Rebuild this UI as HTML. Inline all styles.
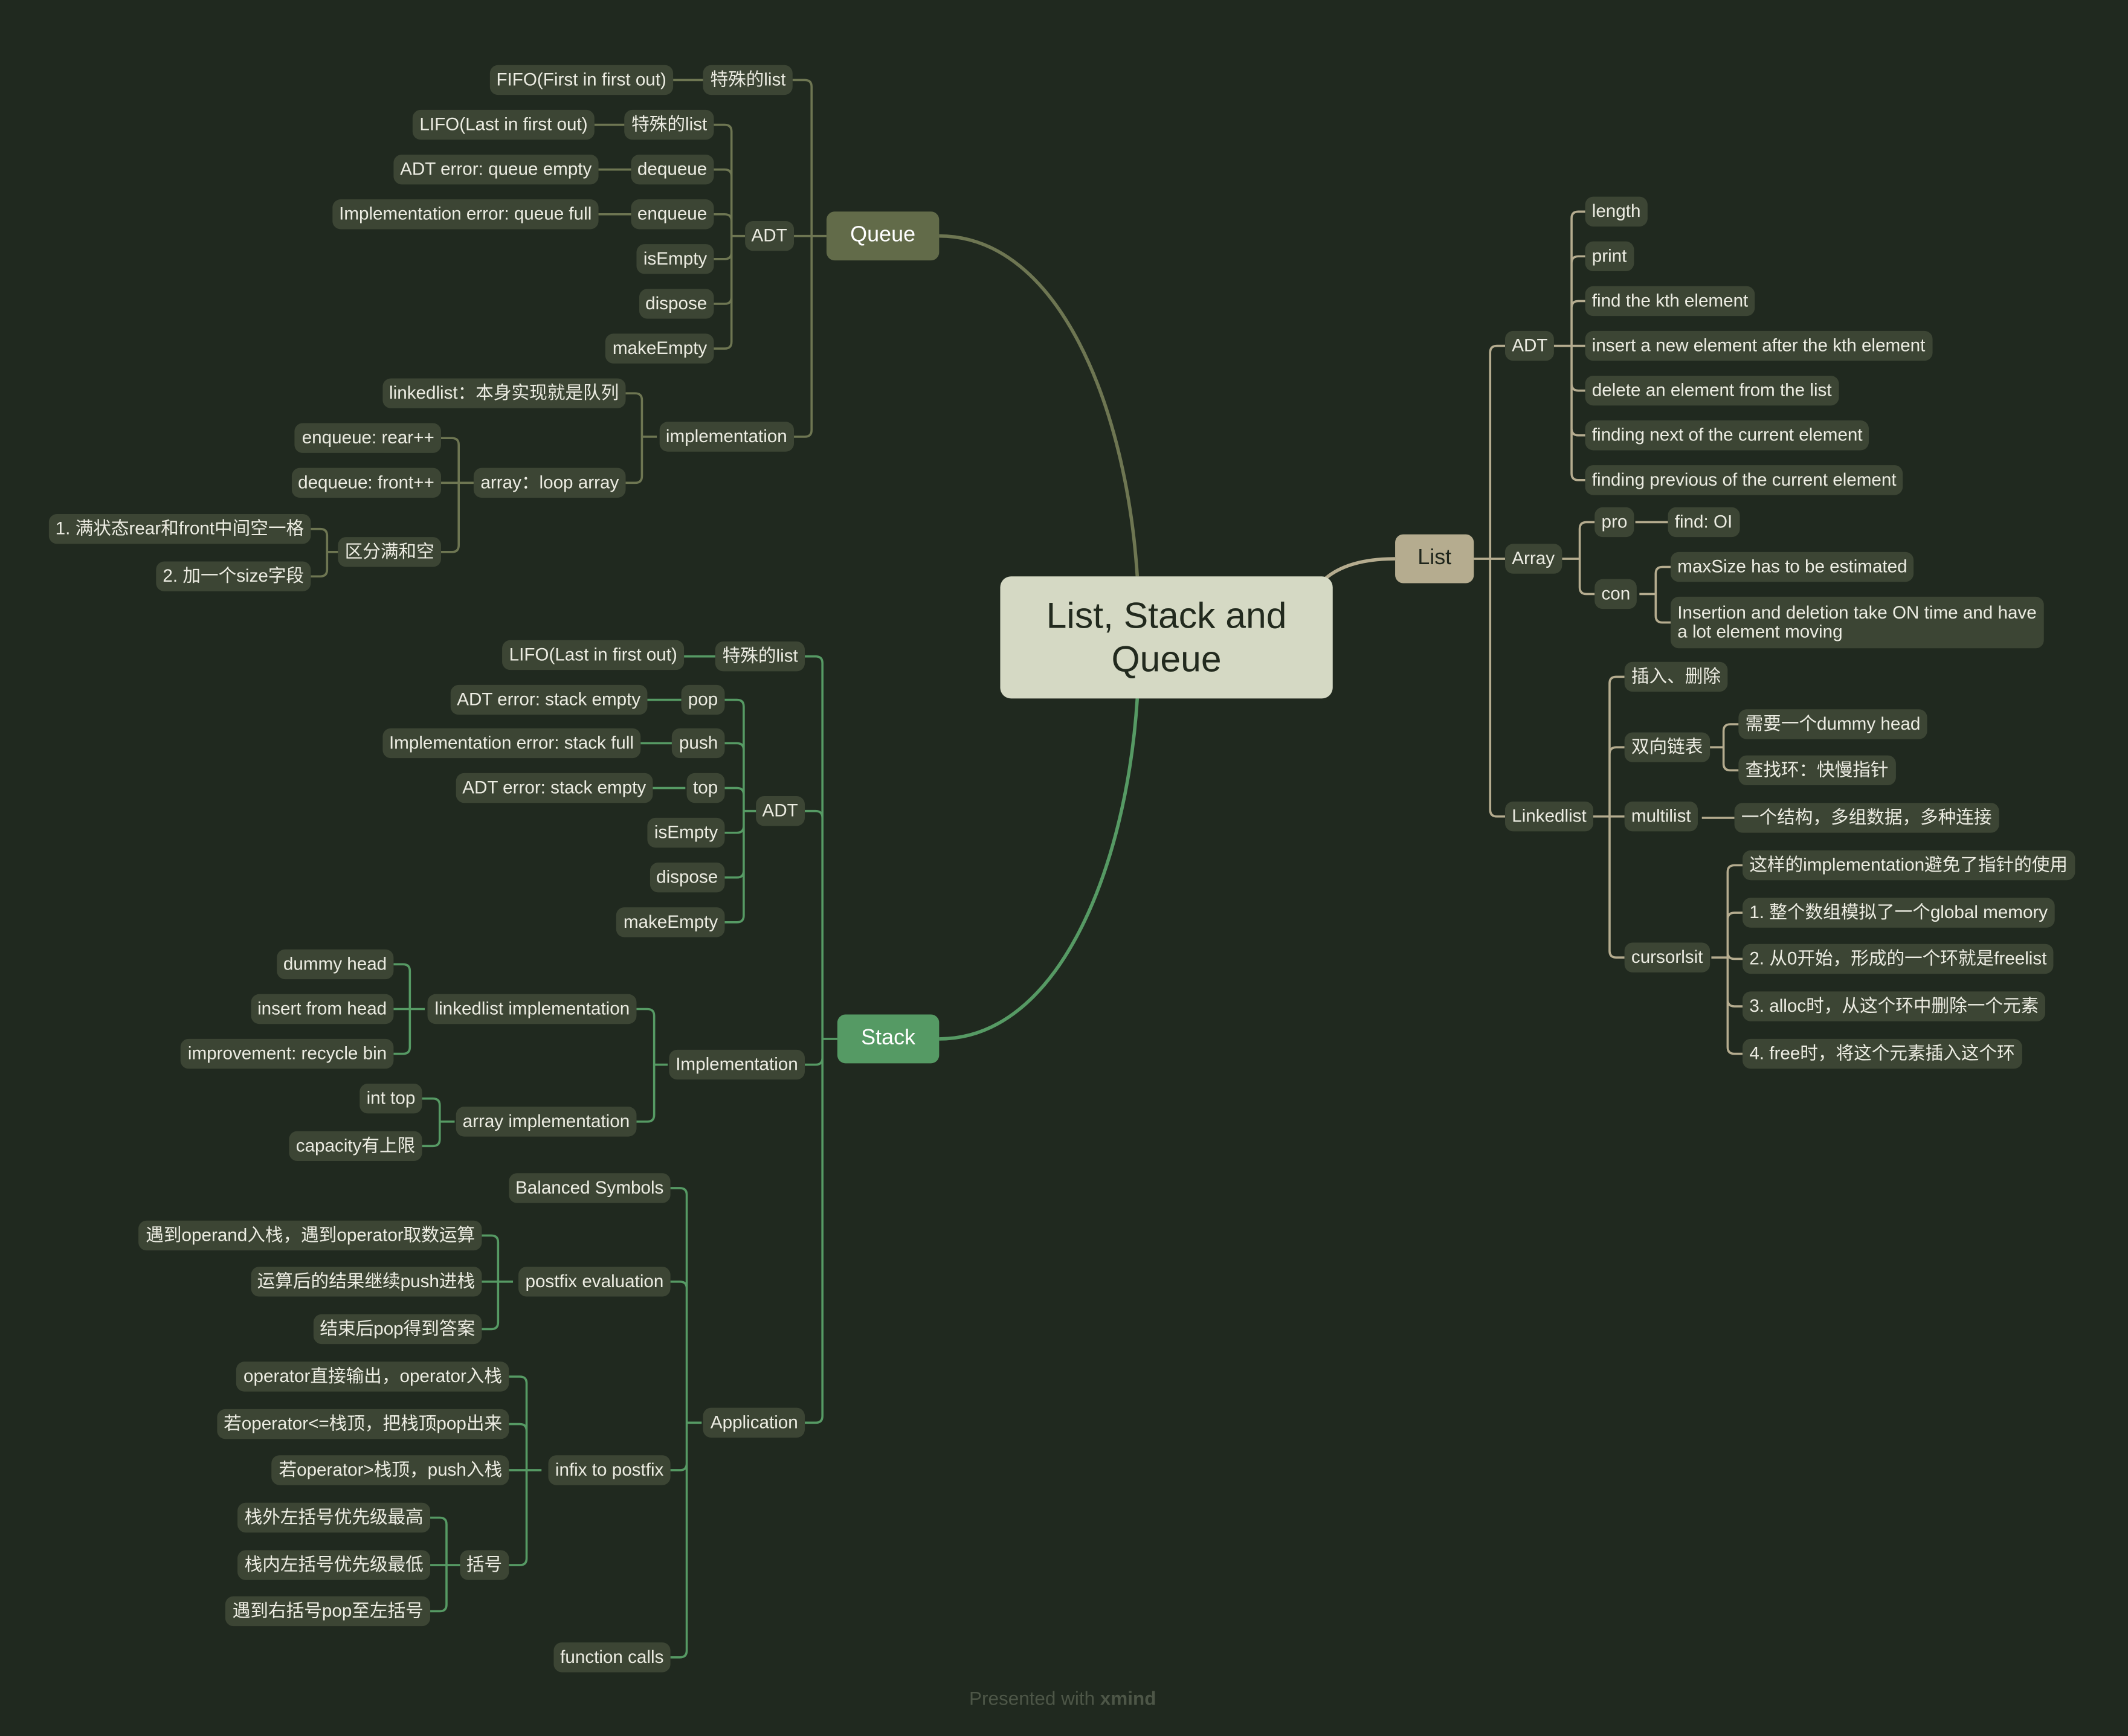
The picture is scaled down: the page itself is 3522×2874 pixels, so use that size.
<!DOCTYPE html>
<html><head><meta charset="utf-8">
<style>
html,body{margin:0;padding:0;background:#20291f;width:3522px;height:2874px;overflow:hidden}
#s{position:absolute;left:0;top:0;width:1568px;height:1280px;transform:scale(2.24617,2.24531);transform-origin:0 0;font-family:"Liberation Sans","Noto Sans CJK SC",sans-serif}
svg{position:absolute;left:0;top:0}
.n{position:absolute;height:22px;line-height:22px;padding:0 5px;border-radius:6px;background:#3c4534;color:#ecece2;font-size:13.2px;white-space:nowrap;transform:translateY(-50%)}
</style></head><body><div id="s">
<svg width="1568" height="1280" viewBox="0 0 1568 1280" fill="none" stroke-width="1.6">
<g stroke="#6e7652">
<path d="M692 174 C780 174 830 300 838 425" stroke-width="2.5"/>
<path d="M609 174 H598 M598 174 V64 Q598 59 593 59 H584 M598 174 H585 M598 174 V317 Q598 322 593 322 H585 M521 59 H496
M549 174 H539 M539 174 V97 Q539 92 534 92 H526 M539 174 V130 Q539 125 534 125 H526 M539 174 V163 Q539 158 534 158 H526 M539 174 V186 Q539 191 534 191 H526 M539 174 V219 Q539 224 534 224 H526 M539 174 V252 Q539 257 534 257 H526
M462 92 H438 M466 125 H441 M466 158 H441
M484 322 H473 M473 322 V295 Q473 290 468 290 H461 M473 322 V351 Q473 356 468 356 H461
M349 356 H338 M338 356 V328 Q338 323 333 323 H325 M338 356 H325 M338 356 V402 Q338 407 333 407 H325
M253 407 H241 M241 407 V395 Q241 390 236 390 H229 M241 407 V420 Q241 425 236 425 H229"/>
</g>
<g stroke="#569a64">
<path d="M692 766 C780 766 830 640 838 515" stroke-width="2.5"/>
<path d="M617 766 H606 M606 766 V489 Q606 484 601 484 H593 M606 766 V603 Q606 598 601 598 H593 M606 766 V780 Q606 785 601 785 H593 M606 766 V1044 Q606 1049 601 1049 H593
M530 484 H504
M559 598 H548 M548 598 V521 Q548 516 543 516 H534 M548 598 V553 Q548 548 543 548 H534 M548 598 V586 Q548 581 543 581 H534 M548 598 V609 Q548 614 543 614 H534 M548 598 V642 Q548 647 543 647 H534 M548 598 V675 Q548 680 543 680 H534
M502 516 H477 M497 548 H472 M505 581 H481
M492 785 H482 M482 785 V749 Q482 744 477 744 H469 M482 785 V822 Q482 827 477 827 H469
M313 744 H302 M302 744 V716 Q302 711 297 711 H290 M302 744 H290 M302 744 V772 Q302 777 297 777 H290
M335 827 H324 M324 827 V815 Q324 810 319 810 H311 M324 827 V840 Q324 845 319 845 H311
M517 1049 H506 M506 1049 V881 Q506 876 501 876 H494 M506 1049 V950 Q506 945 501 945 H494 M506 1049 V1079 Q506 1084 501 1084 H494 M506 1049 V1217 Q506 1222 501 1222 H494
M378 945 H367 M367 945 V916 Q367 911 362 911 H355 M367 945 H355 M367 945 V975 Q367 980 362 980 H355
M399 1084 H388 M388 1084 V1020 Q388 1015 383 1015 H375 M388 1084 V1055 Q388 1050 383 1050 H375 M388 1084 H375 M388 1084 V1149 Q388 1154 383 1154 H375
M340 1154 H329 M329 1154 V1124 Q329 1119 324 1119 H317 M329 1154 H317 M329 1154 V1183 Q329 1188 324 1188 H317"/>
</g>
<g stroke="#b5ac8f">
<path d="M975 428 Q992 412 1028 412" stroke-width="2.5"/>
<path d="M1086 412 H1098 M1098 412 V260 Q1098 255 1103 255 H1109 M1098 412 H1109 M1098 412 V597 Q1098 602 1103 602 H1109
M1145 255 H1158 M1158 255 V161 Q1158 156 1163 156 H1168 M1158 255 V194 Q1158 189 1163 189 H1168 M1158 255 V227 Q1158 222 1163 222 H1168 M1158 255 H1168 M1158 255 V283 Q1158 288 1163 288 H1168 M1158 255 V316 Q1158 321 1163 321 H1168 M1158 255 V349 Q1158 354 1163 354 H1168
M1151 412 H1164 M1164 412 V390 Q1164 385 1169 385 H1175 M1164 412 V433 Q1164 438 1169 438 H1175
M1205 385 H1229
M1208 438 H1220 M1220 438 V423 Q1220 418 1225 418 H1231 M1220 438 V454 Q1220 459 1225 459 H1231
M1174 602 H1186 M1186 602 V504 Q1186 499 1191 499 H1197 M1186 602 V556 Q1186 551 1191 551 H1197 M1186 602 H1197 M1186 602 V701 Q1186 706 1191 706 H1197
M1258 551 H1270 M1270 551 V539 Q1270 534 1275 534 H1281 M1270 551 V563 Q1270 568 1275 568 H1281
M1254 603 H1278
M1261 706 H1273 M1273 706 V643 Q1273 638 1278 638 H1284 M1273 706 V678 Q1273 673 1278 673 H1284 M1273 706 V702 Q1273 707 1278 707 H1284 M1273 706 V737 Q1273 742 1278 742 H1284 M1273 706 V772 Q1273 777 1278 777 H1284"/>
</g>
</svg>

<div style="position:absolute;left:737px;top:425px;width:245px;height:90px;background:#d5d9c4;border-radius:8px;color:#222a1e;font-size:27px;line-height:32px;text-align:center;display:flex;align-items:center;justify-content:center">List, Stack and<br>Queue</div>
<div style="position:absolute;left:609px;top:156px;width:83px;height:36px;background:#626b49;border-radius:6px;color:#fff;font-size:16px;line-height:36px;text-align:center">Queue</div>
<div style="position:absolute;left:617px;top:748px;width:75px;height:36px;background:#559a64;border-radius:6px;color:#fff;font-size:16px;line-height:36px;text-align:center">Stack</div>
<div style="position:absolute;left:1028px;top:394px;width:58px;height:36px;background:#b5ac8f;border-radius:6px;color:#1f261c;font-size:16px;line-height:36px;text-align:center">List</div>

<!-- Queue -->
<div class="n" style="right:984px;top:59px">特殊的list</div>
<div class="n" style="right:1072px;top:59px">FIFO(First in first out)</div>
<div class="n" style="right:983px;top:174px">ADT</div>
<div class="n" style="right:1042px;top:92px">特殊的list</div>
<div class="n" style="right:1130px;top:92px">LIFO(Last in first out)</div>
<div class="n" style="right:1042px;top:125px">dequeue</div>
<div class="n" style="right:1127px;top:125px">ADT error: queue empty</div>
<div class="n" style="right:1042px;top:158px">enqueue</div>
<div class="n" style="right:1127px;top:158px">Implementation error: queue full</div>
<div class="n" style="right:1042px;top:191px">isEmpty</div>
<div class="n" style="right:1042px;top:224px">dispose</div>
<div class="n" style="right:1042px;top:257px">makeEmpty</div>
<div class="n" style="right:983px;top:322px">implementation</div>
<div class="n" style="right:1107px;top:290px">linkedlist：本身实现就是队列</div>
<div class="n" style="right:1107px;top:356px">array：loop array</div>
<div class="n" style="right:1243px;top:323px">enqueue: rear++</div>
<div class="n" style="right:1243px;top:356px">dequeue: front++</div>
<div class="n" style="right:1243px;top:407px">区分满和空</div>
<div class="n" style="right:1339px;top:390px">1. 满状态rear和front中间空一格</div>
<div class="n" style="right:1339px;top:425px">2. 加一个size字段</div>

<!-- Stack -->
<div class="n" style="right:975px;top:484px">特殊的list</div>
<div class="n" style="right:1064px;top:483px">LIFO(Last in first out)</div>
<div class="n" style="right:975px;top:598px">ADT</div>
<div class="n" style="right:1034px;top:516px">pop</div>
<div class="n" style="right:1091px;top:516px">ADT error: stack empty</div>
<div class="n" style="right:1034px;top:548px">push</div>
<div class="n" style="right:1096px;top:548px">Implementation error: stack full</div>
<div class="n" style="right:1034px;top:581px">top</div>
<div class="n" style="right:1087px;top:581px">ADT error: stack empty</div>
<div class="n" style="right:1034px;top:614px">isEmpty</div>
<div class="n" style="right:1034px;top:647px">dispose</div>
<div class="n" style="right:1034px;top:680px">makeEmpty</div>
<div class="n" style="right:975px;top:785px">Implementation</div>
<div class="n" style="right:1099px;top:744px">linkedlist implementation</div>
<div class="n" style="right:1278px;top:711px">dummy head</div>
<div class="n" style="right:1278px;top:744px">insert from head</div>
<div class="n" style="right:1278px;top:777px">improvement: recycle bin</div>
<div class="n" style="right:1099px;top:827px">array implementation</div>
<div class="n" style="right:1257px;top:810px">int top</div>
<div class="n" style="right:1257px;top:845px">capacity有上限</div>
<div class="n" style="right:975px;top:1049px">Application</div>
<div class="n" style="right:1074px;top:876px">Balanced Symbols</div>
<div class="n" style="right:1074px;top:945px">postfix evaluation</div>
<div class="n" style="right:1213px;top:911px">遇到operand入栈，遇到operator取数运算</div>
<div class="n" style="right:1213px;top:945px">运算后的结果继续push进栈</div>
<div class="n" style="right:1213px;top:980px">结束后pop得到答案</div>
<div class="n" style="right:1074px;top:1084px">infix to postfix</div>
<div class="n" style="right:1193px;top:1015px">operator直接输出，operator入栈</div>
<div class="n" style="right:1193px;top:1050px">若operator&lt;=栈顶，把栈顶pop出来</div>
<div class="n" style="right:1193px;top:1084px">若operator&gt;栈顶，push入栈</div>
<div class="n" style="right:1193px;top:1154px">括号</div>
<div class="n" style="right:1251px;top:1119px">栈外左括号优先级最高</div>
<div class="n" style="right:1251px;top:1154px">栈内左括号优先级最低</div>
<div class="n" style="right:1251px;top:1188px">遇到右括号pop至左括号</div>
<div class="n" style="right:1074px;top:1222px">function calls</div>

<!-- List -->
<div class="n" style="left:1109px;top:255px">ADT</div>
<div class="n" style="left:1168px;top:156px">length</div>
<div class="n" style="left:1168px;top:189px">print</div>
<div class="n" style="left:1168px;top:222px">find the kth element</div>
<div class="n" style="left:1168px;top:255px">insert a new element after the kth element</div>
<div class="n" style="left:1168px;top:288px">delete an element from the list</div>
<div class="n" style="left:1168px;top:321px">finding next of the current element</div>
<div class="n" style="left:1168px;top:354px">finding previous of the current element</div>
<div class="n" style="left:1109px;top:412px">Array</div>
<div class="n" style="left:1175px;top:385px">pro</div>
<div class="n" style="left:1229px;top:385px">find: OI</div>
<div class="n" style="left:1175px;top:438px">con</div>
<div class="n" style="left:1231px;top:418px">maxSize has to be estimated</div>
<div class="n" style="left:1231px;top:459px;height:auto;width:265px;white-space:normal;line-height:14px;padding:5px 5px">Insertion and deletion take ON time and have a lot element moving</div>
<div class="n" style="left:1109px;top:602px">Linkedlist</div>
<div class="n" style="left:1197px;top:499px">插入、删除</div>
<div class="n" style="left:1197px;top:551px">双向链表</div>
<div class="n" style="left:1281px;top:534px">需要一个dummy head</div>
<div class="n" style="left:1281px;top:568px">查找环：快慢指针</div>
<div class="n" style="left:1197px;top:602px">multilist</div>
<div class="n" style="left:1278px;top:603px">一个结构，多组数据，多种连接</div>
<div class="n" style="left:1197px;top:706px">cursorlsit</div>
<div class="n" style="left:1284px;top:638px">这样的implementation避免了指针的使用</div>
<div class="n" style="left:1284px;top:673px">1. 整个数组模拟了一个global memory</div>
<div class="n" style="left:1284px;top:707px">2. 从0开始，形成的一个环就是freelist</div>
<div class="n" style="left:1284px;top:742px">3. alloc时，从这个环中删除一个元素</div>
<div class="n" style="left:1284px;top:777px">4. free时，将这个元素插入这个环</div>

<div style="position:absolute;left:683px;top:1244px;width:200px;text-align:center;color:#4d5647;font-size:14px">Presented with <b>xmind</b></div>
</div></body></html>
